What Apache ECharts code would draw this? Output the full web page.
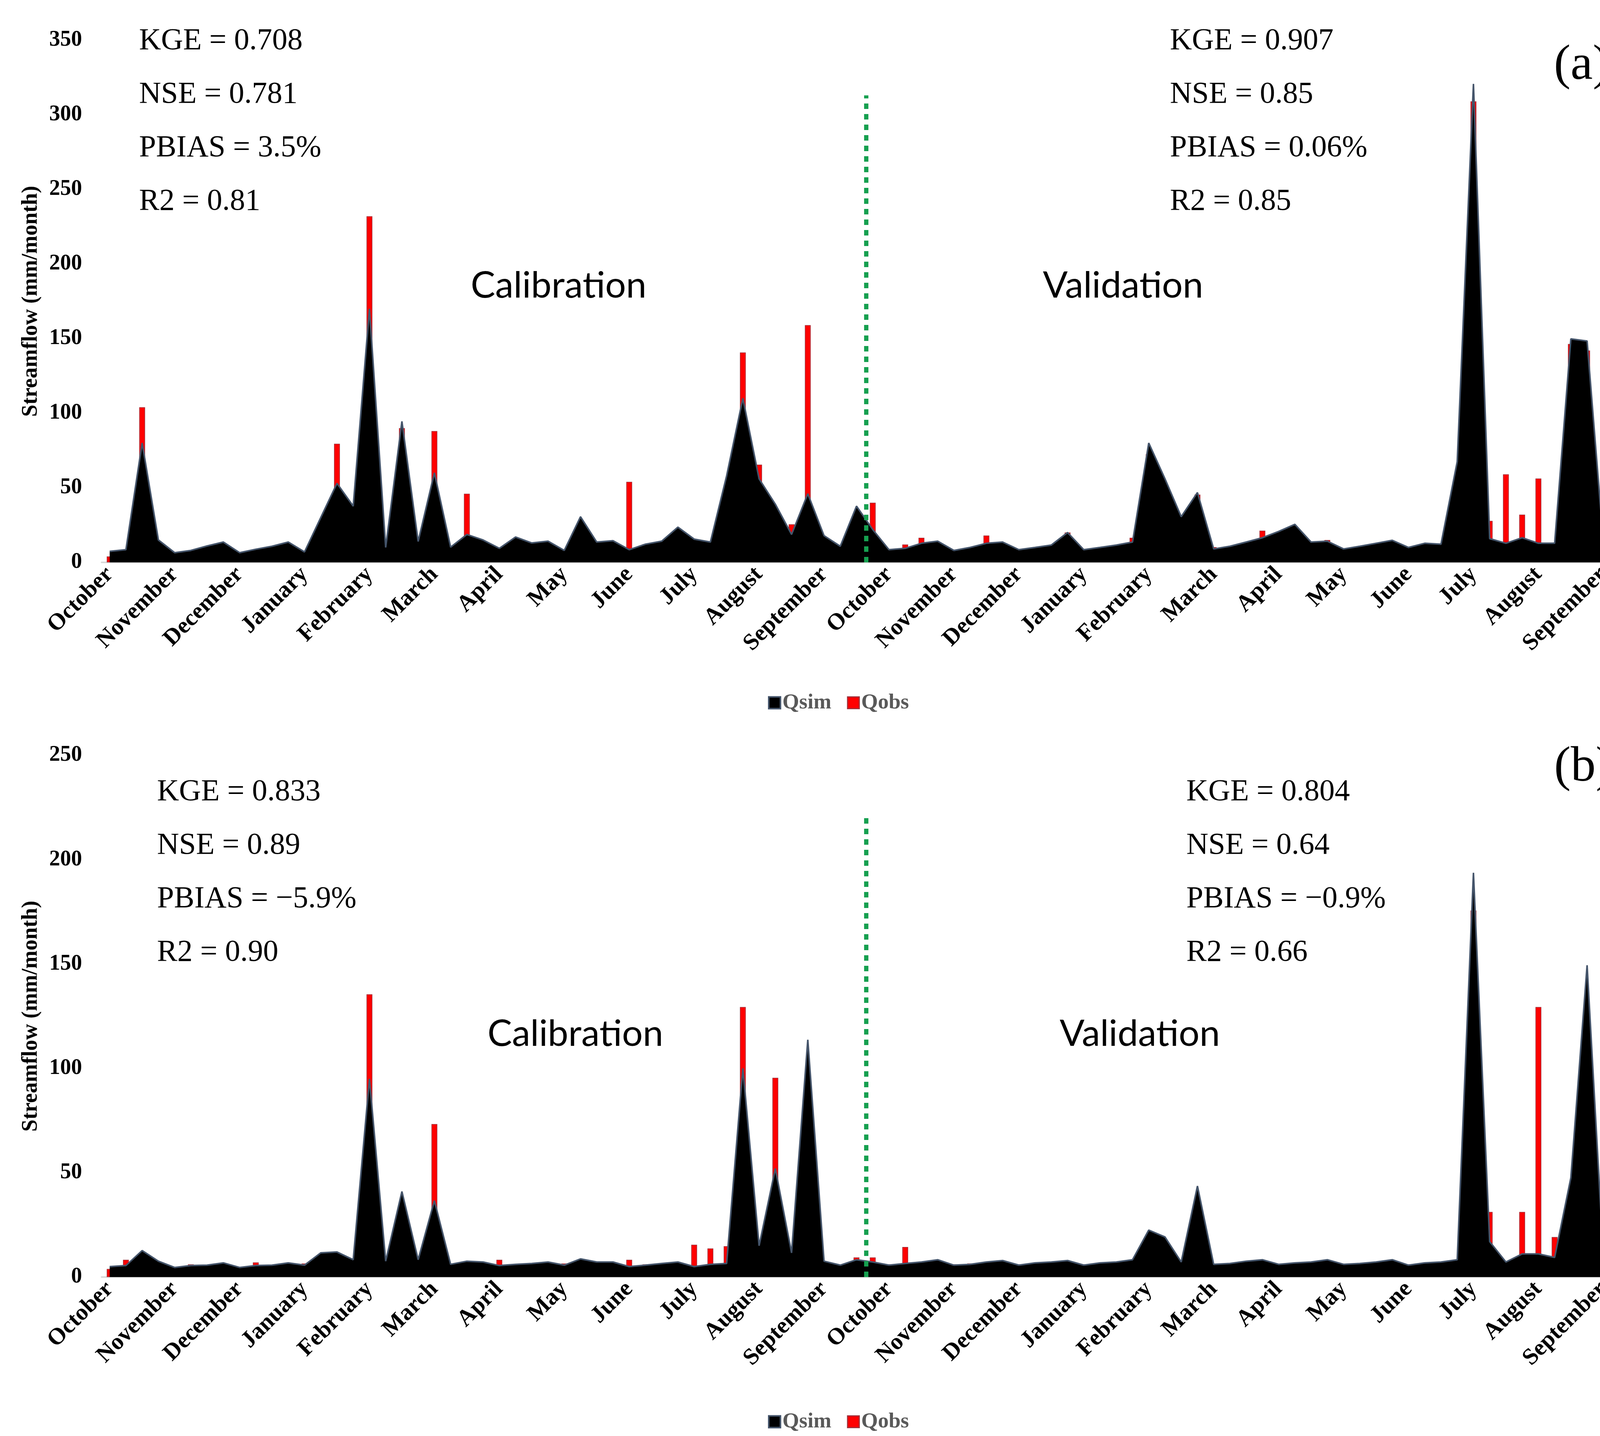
<!DOCTYPE html>
<html>
<head>
<meta charset="utf-8">
<script src="https://cdn.jsdelivr.net/npm/echarts@6/dist/echarts.min.js"></script>
<style>
  html, body { margin: 0; padding: 0; background: #fff; }
  #main { width: 4293px; height: 3677px; }
</style>
</head>
<body>
<div id="main"></div>
<script>
// month tick labels, one every 4 categories
var monthLabels = ['October', 'November', 'December', 'January', 'February', 'March', 'April', 'May', 'June', 'July', 'August', 'September',
    'October', 'November', 'December', 'January', 'February', 'March', 'April', 'May', 'June', 'July', 'August', 'September'];

// panel (a)
var qsimA = [7.4, 8.5, 80, 15, 6.5, 8, 11, 13.6, 6.5, 8.8, 10.8, 13.6, 7, 30, 53, 37.7, 170, 10, 94.5, 14,
    60, 10.2, 18.7, 15, 9.4, 17, 13, 14.2, 8, 30.6, 13.6, 14.5, 8.5, 12.2, 14.2, 23.6, 15.6, 13.6, 58, 110, 56, 39, 18.7, 46, 17.9, 10.8,
    37.7, 22, 8.5, 9.4, 12.8, 14.2, 8, 10, 12.8, 13.6, 8.5, 10, 11.6, 20, 8.5, 10, 11.6, 13.6, 80, 56, 30.6, 46.8, 9, 10.8, 13.6,
    16.5, 20.7, 25.5, 13.6, 14.2, 9, 10.8, 12.8, 14.8, 10, 12.8, 12.2, 67.5, 320.7, 15.9, 12.8, 16.5, 12.8, 12.8, 149.8, 148.4, 13.6, 32, 84.6, 35];
var qobsA = [4, 4, 104, 6, 2.3, 2.8, 3.4, 4.3, 2.3, 3.4, 4.3, 2.8, 2.3, 5.7, 79.5, 7.4, 232, 8.5, 90, 3.7,
    88, 3.7, 46, 3.7, 6.5, 2.8, 10.8, 2.3, 2.8, 2.8, 4.3, 1.4, 54, 12.2, 2.8, 5.7, 13, 12.2, 37.5, 140.7, 65.5, 32, 25.5, 159, 13, 5.7,
    16, 40, 4.5, 12, 16.5, 7.4, 5, 6, 18, 5, 4.3, 6.8, 6, 20, 4.5, 7.4, 5, 16.5, 72.6, 9.4, 8, 45.4, 10.2, 9.4, 7.4,
    21.3, 5, 8.5, 6, 15, 5, 6.8, 6, 4.3, 7.4, 6, 5, 6, 309, 27.8, 59, 32, 56.2, 8.5, 146.4, 142, 21.3, 89.7, 174, 35];

// panel (b)
var qsimB = [5, 5.5, 12.7, 7.6, 4.6, 5.5, 5.7, 6.8, 4.6, 5.5, 5.7, 6.8, 5.7, 11.6, 12, 8.3, 95, 7.6, 41, 8.3,
    36.6, 6.1, 7.6, 7.2, 5.5, 6.1, 6.5, 7.2, 5.7, 8.7, 7.2, 7.2, 5, 5.7, 6.5, 7.2, 5, 6.1, 6.5, 100, 15, 52, 11.6, 113.7, 7.6, 5.7,
    8.3, 7.2, 5.7, 6.5, 7.2, 8.3, 5.7, 6.1, 7.2, 7.9, 5.7, 6.8, 7.2, 7.9, 5.7, 6.8, 7.2, 8.3, 22.5, 19.2, 7.2, 43.6, 6.1, 6.5, 7.6,
    8.3, 6.1, 6.8, 7.2, 8.3, 6.1, 6.5, 7.2, 8.3, 5.7, 6.8, 7.2, 8.3, 193.7, 17, 7.2, 11.1, 11.1, 9.4, 47.6, 149.4, 10, 21.4, 83.6, 8.3];
var qobsB = [3.9, 8.3, 6.8, 5.5, 3.9, 6.1, 2.2, 4.6, 4.6, 7, 2.2, 4.6, 6.5, 10.5, 4.6, 6.1, 135.5, 4.6, 10, 5,
    73.3, 3.9, 6.8, 5.5, 8.3, 3.3, 2.6, 4.4, 6.5, 3.3, 3.3, 3.9, 8.3, 6.1, 2.6, 5, 15.5, 13.7, 14.8, 129.4, 15.3, 95.5, 12, 95.5, 7.6, 5,
    9.4, 9.4, 6.1, 14.4, 4.4, 2.6, 6.1, 6.5, 4.4, 2.2, 6.1, 4.6, 3.9, 2.6, 6.1, 4.4, 3.5, 2.8, 7.6, 5, 3.3, 21.4, 6.1, 5.7, 3.9,
    3.9, 5.5, 6.1, 3.9, 3.9, 5.5, 5, 3.9, 3.3, 6.1, 5, 3.3, 3.3, 175.6, 31.2, 4.4, 31.2, 129.4, 19.2, 10.9, 95.5, 31.2, 45.8, 140.3, 8.7];

// calibration / validation split (category position) and line heights
var splitPos = 46.6;
var splitTopA = 313;
var splitTopB = 222;

var statsA = [['KGE = 0.708', 'NSE = 0.781', 'PBIAS = 3.5%', 'R2 = 0.81'], ['KGE = 0.907', 'NSE = 0.85', 'PBIAS = 0.06%', 'R2 = 0.85']];
var statsB = [['KGE = 0.833', 'NSE = 0.89', 'PBIAS = \u22125.9%', 'R2 = 0.90'], ['KGE = 0.804', 'NSE = 0.64', 'PBIAS = \u22120.9%', 'R2 = 0.66']];

var cats = qsimA.map(function (v, i) { return String(i); });
var serif = 'Liberation Serif';

var myChart = echarts.init(document.getElementById('main'));

function xCat(grid) {
    return {
        type: 'category', gridIndex: grid, data: cats,
        axisLine: { lineStyle: { color: '#d9d9d9', width: 4 } },
        axisTick: { show: false },
        axisLabel: {
            interval: 3, rotate: 45, margin: 22,
            fontFamily: serif, fontWeight: 'bold', fontSize: 60, color: '#000',
            formatter: function (v, i) { return i % 4 === 0 ? monthLabels[i / 4] : ''; }
        }
    };
}
function xVal(grid) {
    return { type: 'value', gridIndex: grid, min: -0.5, max: 95.5, show: false };
}
function yAx(grid, max) {
    return {
        type: 'value', gridIndex: grid, min: 0, max: max, interval: 50,
        name: 'Streamflow (mm/month)', nameLocation: 'middle', nameGap: 152,
        nameTextStyle: { fontFamily: serif, fontWeight: 'bold', fontSize: 56, color: '#000' },
        axisLine: { show: false }, axisTick: { show: false },
        splitLine: { show: false },
        axisLabel: { fontFamily: serif, fontWeight: 'bold', fontSize: 56, color: '#000', margin: 50 }
    };
}
function simSeries(idx, data) {
    return {
        name: 'Qsim', type: 'line', xAxisIndex: idx, yAxisIndex: idx, data: data,
        symbol: 'none', lineStyle: { color: '#44546a', width: 4 },
        itemStyle: { color: '#000' },
        areaStyle: { color: '#000', opacity: 1 }
    };
}
function obsSeries(idx, data) {
    return {
        name: 'Qobs', type: 'bar', xAxisIndex: idx, yAxisIndex: idx, data: data,
        barWidth: 15,
        itemStyle: { color: '#ff0000', borderColor: '#a3303a', borderWidth: 1.5 }
    };
}
function splitSeries(idx, top) {
    return {
        name: 'split', type: 'line', xAxisIndex: idx + 2, yAxisIndex: idx,
        data: [[splitPos, 0], [splitPos, top]], symbol: 'none', z: 5,
        lineStyle: { color: '#16a050', width: 11, type: [14, 13] }
    };
}
function legendAt(top) {
    return {
        top: top, left: 'center', icon: 'rect', itemWidth: 30, itemHeight: 30, itemGap: 40,
        textStyle: { fontFamily: serif, fontWeight: 'bold', fontSize: 55, color: '#595959' },
        data: [
            { name: 'Qsim', itemStyle: { color: '#000', borderColor: '#44546a', borderWidth: 4 } },
            { name: 'Qobs', itemStyle: { color: '#ff0000', borderColor: '#a3303a', borderWidth: 3 } }
        ]
    };
}
function txt(x, y, s, size, family, align) {
    return {
        type: 'text', x: x, y: y, z: 10,
        style: { text: s, fontSize: size, fontFamily: family, fill: '#000', align: align || 'left', verticalAlign: 'middle' }
    };
}

var graphics = [];
[[statsA, 356, 2995, 106], [statsB, 402, 3037, 2029]].forEach(function (p) {
    for (var k = 0; k < 4; k++) {
        graphics.push(txt(p[1], p[3] + k * 137, p[0][0][k], 78, serif));
        graphics.push(txt(p[2], p[3] + k * 137, p[0][1][k], 78, serif));
    }
});
graphics.push(txt(4049, 168, '(a)', 128, serif, 'center'));
graphics.push(txt(4053, 1965, '(b)', 128, serif, 'center'));
graphics.push(txt(1430, 732, 'Calibration', 94, 'Lato', 'center'));
graphics.push(txt(2875, 732, 'Validation', 94, 'Lato', 'center'));
graphics.push(txt(1473, 2648, 'Calibration', 94, 'Lato', 'center'));
graphics.push(txt(2918, 2648, 'Validation', 94, 'Lato', 'center'));

myChart.setOption({
    backgroundColor: '#fff',
    animation: false,
    grid: [
        { left: 260, right: 43, top: 103, height: 1337 },
        { left: 260, right: 43, top: 1934, height: 1336 }
    ],
    xAxis: [xCat(0), xCat(1), xVal(0), xVal(1)],
    yAxis: [yAx(0, 350), yAx(1, 250)],
    legend: [legendAt(1767), legendAt(3608)],
    series: [
        simSeries(0, qsimA), obsSeries(0, qobsA), splitSeries(0, splitTopA),
        simSeries(1, qsimB), obsSeries(1, qobsB), splitSeries(1, splitTopB)
    ],
    graphic: graphics
});
</script>
</body>
</html>
